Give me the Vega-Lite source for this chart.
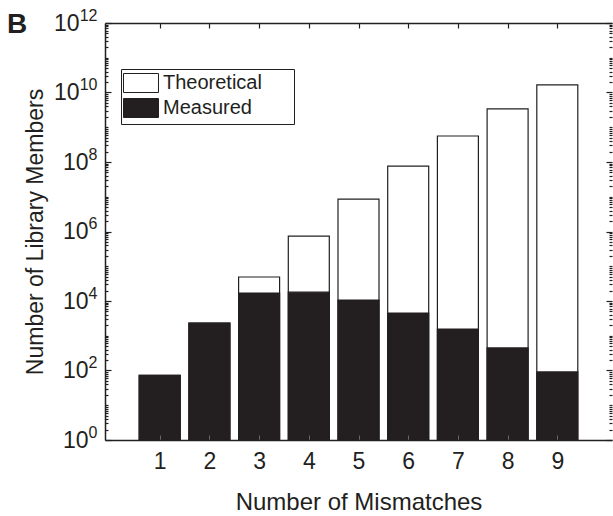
{
  "$schema": "https://vega.github.io/schema/vega-lite/v6.json",
  "width": 507,
  "height": 417,
  "autosize": {"type": "none"},
  "padding": {"left": 105, "top": 23, "right": 1, "bottom": 76},
  "background": "white",
  "title": {"text": "B", "anchor": "start", "frame": "group", "fontSize": 28, "fontWeight": "bold", "color": "#231f20", "dx": -98, "offset": 0, "dy": 54, "baseline": "alphabetic"},
  "config": {
    "font": "Liberation Sans",
    "view": {"stroke": null},
    "axis": {"grid": false, "domainColor": "#231f20", "tickColor": "#231f20", "labelColor": "#231f20", "titleColor": "#231f20", "labelFontSize": 23, "titleFontSize": 23, "titleFontWeight": "normal", "labelFont": "Liberation Sans", "titleFont": "Liberation Sans"},
    "legend": {"strokeColor": "#231f20", "strokeWidth": 1, "fillColor": "white", "padding": 4}
  },
  "data": {"values": [
    {"n": 1, "type": "Theoretical", "value": 72},
    {"n": 2, "type": "Theoretical", "value": 2300},
    {"n": 3, "type": "Theoretical", "value": 49000},
    {"n": 4, "type": "Theoretical", "value": 740000},
    {"n": 5, "type": "Theoretical", "value": 8600000},
    {"n": 6, "type": "Theoretical", "value": 76000000},
    {"n": 7, "type": "Theoretical", "value": 560000000},
    {"n": 8, "type": "Theoretical", "value": 3400000000},
    {"n": 9, "type": "Theoretical", "value": 16500000000},
    {"n": 1, "type": "Measured", "value": 72},
    {"n": 2, "type": "Measured", "value": 2300},
    {"n": 3, "type": "Measured", "value": 17000},
    {"n": 4, "type": "Measured", "value": 18000},
    {"n": 5, "type": "Measured", "value": 10700},
    {"n": 6, "type": "Measured", "value": 4500},
    {"n": 7, "type": "Measured", "value": 1560},
    {"n": 8, "type": "Measured", "value": 445},
    {"n": 9, "type": "Measured", "value": 91}
  ]},
  "layer": [
    {
      "mark": {"type": "bar", "width": 41, "stroke": "#231f20", "strokeWidth": 1.2},
      "encoding": {
        "x": {"field": "n", "type": "quantitative", "scale": {"domain": [0, 10], "nice": false, "zero": false},
              "axis": {"orient": "bottom", "values": [1,2,3,4,5,6,7,8,9], "labels": false, "title": null, "tickSize": -5, "tickColor": "#666", "domainWidth": 1.5, "zindex": 1}},
        "y": {"field": "value", "type": "quantitative", "stack": null,
              "scale": {"type": "log", "domain": [1, 1000000000000], "nice": false},
              "axis": {"orient": "left", "labels": false, "title": null, "domainWidth": 1.5, "zindex": 1, "tickWidth": 1.2,
                       "values": [1,2,3,4,5,6,7,8,9,10,20,30,40,50,60,70,80,90,100,200,300,400,500,600,700,800,900,1e3,2e3,3e3,4e3,5e3,6e3,7e3,8e3,9e3,1e4,2e4,3e4,4e4,5e4,6e4,7e4,8e4,9e4,1e5,2e5,3e5,4e5,5e5,6e5,7e5,8e5,9e5,1e6,2e6,3e6,4e6,5e6,6e6,7e6,8e6,9e6,1e7,2e7,3e7,4e7,5e7,6e7,7e7,8e7,9e7,1e8,2e8,3e8,4e8,5e8,6e8,7e8,8e8,9e8,1e9,2e9,3e9,4e9,5e9,6e9,7e9,8e9,9e9,1e10,2e10,3e10,4e10,5e10,6e10,7e10,8e10,9e10,1e11,2e11,3e11,4e11,5e11,6e11,7e11,8e11,9e11,1e12],
                       "tickSize": {"condition": {"test": "abs(log(datum.value)/LN10 - 2*round(log(datum.value)/LN10/2)) < 0.000001", "value": -6}, "value": -3}}},
        "fill": {"field": "type", "type": "nominal",
                 "scale": {"domain": ["Theoretical", "Measured"], "range": ["#ffffff", "#231f20"]},
                 "legend": {"orient": "none", "legendX": 16, "legendY": 46, "title": null, "labelFontSize": 20, "labelColor": "#231f20",
                            "symbolType": "M-1.842,-1L1.842,-1L1.842,1L-1.842,1Z", "symbolSize": 361, "symbolStrokeColor": "#231f20", "symbolStrokeWidth": 1,
                            "symbolOffset": 6, "labelOffset": 12, "rowPadding": 1, "symbolOpacity": 1,
                            "labelExpr": "datum.label + '\u00a0\u00a0\u00a0\u00a0\u00a0\u200b'"}}
      }
    },
    {
      "mark": {"type": "point", "opacity": 0},
      "encoding": {
        "x": {"field": "n", "type": "quantitative", "axis": {"orient": "top", "values": [1,2,3,4,5,6,7,8,9], "labels": false, "title": null, "tickSize": -5, "domainWidth": 1.5, "tickWidth": 1.2}},
        "y": {"field": "value", "type": "quantitative",
              "axis": {"orient": "left", "values": [1,100,10000,1000000,100000000,10000000000,1000000000000], "domain": false, "ticks": false,
                       "labelExpr": "'10'", "labelBaseline": "middle", "labelAlign": "right",
                       "labelPadding": {"condition": {"test": "datum.value >= 10000000000", "value": 26}, "value": 17},
                       "title": "Number of Library Members", "titlePadding": 6}}
      }
    },
    {
      "mark": {"type": "point", "opacity": 0},
      "encoding": {
        "x": {"field": "n", "type": "quantitative", "axis": {"orient": "bottom", "values": [1,2,3,4,5,6,7,8,9], "domain": false, "ticks": false, "labelPadding": 10, "title": "Number of Mismatches", "titleFontSize": 24, "titlePadding": 17}},
        "y": {"field": "value", "type": "quantitative",
              "axis": {"orient": "left", "values": [1,100,10000,1000000,100000000,10000000000,1000000000000], "domain": false, "ticks": false,
                       "labelExpr": "'' + round(log(datum.value)/LN10)", "labelFontSize": 16, "labelBaseline": "middle", "labelAlign": "right", "labelOffset": -8, "labelPadding": 8, "title": null}}
      }
    },
    {
      "mark": {"type": "point", "opacity": 0},
      "encoding": {
        "x": {"field": "n", "type": "quantitative", "axis": null},
        "y": {"field": "value", "type": "quantitative",
              "axis": {"orient": "right", "labels": false, "title": null, "domain": false, "tickWidth": 1.2,
                       "values": [1,2,3,4,5,6,7,8,9,10,20,30,40,50,60,70,80,90,100,200,300,400,500,600,700,800,900,1e3,2e3,3e3,4e3,5e3,6e3,7e3,8e3,9e3,1e4,2e4,3e4,4e4,5e4,6e4,7e4,8e4,9e4,1e5,2e5,3e5,4e5,5e5,6e5,7e5,8e5,9e5,1e6,2e6,3e6,4e6,5e6,6e6,7e6,8e6,9e6,1e7,2e7,3e7,4e7,5e7,6e7,7e7,8e7,9e7,1e8,2e8,3e8,4e8,5e8,6e8,7e8,8e8,9e8,1e9,2e9,3e9,4e9,5e9,6e9,7e9,8e9,9e9,1e10,2e10,3e10,4e10,5e10,6e10,7e10,8e10,9e10,1e11,2e11,3e11,4e11,5e11,6e11,7e11,8e11,9e11,1e12],
                       "tickSize": {"condition": {"test": "abs(log(datum.value)/LN10 - 2*round(log(datum.value)/LN10/2)) < 0.000001", "value": -6}, "value": -3}}}
      }
    }
  ],
  "resolve": {"axis": {"x": "independent", "y": "independent"}}
}
